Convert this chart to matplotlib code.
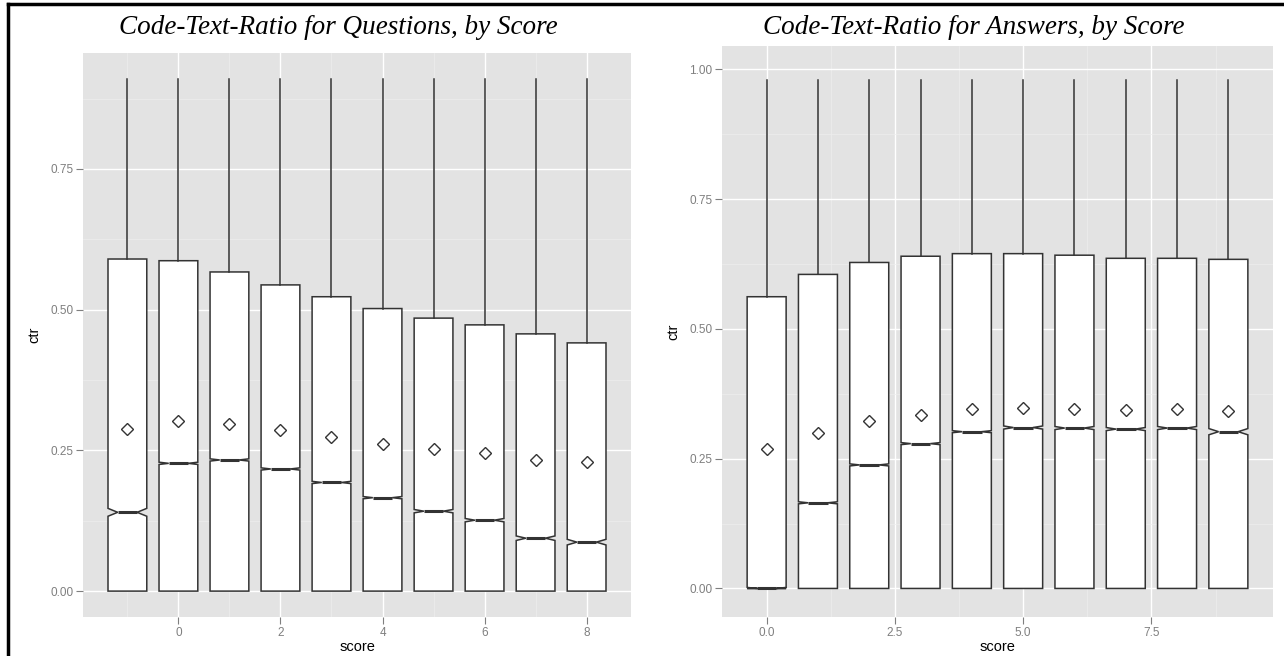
import matplotlib.pyplot as plt
from matplotlib.lines import Line2D
from matplotlib.ticker import MultipleLocator

plt.rcParams['font.family'] = ['Liberation Sans', 'DejaVu Sans']

# Questions panel: score -1..8
q_scores = [-1, 0, 1, 2, 3, 4, 5, 6, 7, 8]
q_q3 = [0.590, 0.587, 0.567, 0.544, 0.523, 0.502, 0.485, 0.473, 0.457, 0.441]
q_med = [0.140, 0.227, 0.233, 0.217, 0.193, 0.166, 0.142, 0.126, 0.094, 0.087]
q_notch = [0.007, 0.002, 0.002, 0.002, 0.002, 0.002, 0.003, 0.003, 0.004, 0.005]
q_mean = [0.288, 0.302, 0.297, 0.286, 0.274, 0.261, 0.252, 0.245, 0.233, 0.229]
q_whishi = 0.91

# Answers panel: score 0..9
a_scores = [0, 1, 2, 3, 4, 5, 6, 7, 8, 9]
a_q3 = [0.562, 0.605, 0.628, 0.640, 0.645, 0.645, 0.642, 0.636, 0.636, 0.634]
a_med = [0.000, 0.165, 0.238, 0.279, 0.302, 0.310, 0.309, 0.307, 0.309, 0.302]
a_notch = [0.002, 0.002, 0.002, 0.002, 0.002, 0.003, 0.003, 0.003, 0.003, 0.006]
a_mean = [0.269, 0.300, 0.322, 0.335, 0.345, 0.347, 0.346, 0.343, 0.345, 0.341]
a_whishi = 0.98

W, H = 1284, 656
fig = plt.figure(figsize=(W / 100, H / 100), dpi=100)

GRAY = '#E3E3E3'
EDGE = '#333333'
TICKC = '#7F7F7F'


def make_stats(med, q3, notch, mean, whishi, lo_clip=False):
    stats = []
    for m, u, n, mu in zip(med, q3, notch, mean):
        cilo = max(m - n, 0.0) if lo_clip else m - n
        stats.append(dict(med=m, q1=0.0, q3=u, whislo=0.0, whishi=whishi,
                          cilo=cilo, cihi=m + n, mean=mu, fliers=[]))
    return stats


def panel(rect, scores, stats, xlim, ylim, xmajor, title, title_x):
    ax = fig.add_axes(rect)
    ax.set_facecolor(GRAY)
    ax.bxp(stats, positions=scores, widths=0.76, shownotches=True, showcaps=False,
           showmeans=True, showfliers=False, patch_artist=True,
           boxprops=dict(facecolor='white', edgecolor=EDGE, linewidth=1.1),
           whiskerprops=dict(color=EDGE, linewidth=1.1),
           medianprops=dict(color=EDGE, linewidth=2.2),
           meanprops=dict(marker='D', markerfacecolor='none', markeredgecolor=EDGE,
                          markersize=6, markeredgewidth=1.0),
           zorder=3)
    ax.set_xlim(*xlim)
    ax.set_ylim(*ylim)
    ax.xaxis.set_major_locator(MultipleLocator(xmajor))
    ax.xaxis.set_minor_locator(MultipleLocator(xmajor / 2))
    ax.yaxis.set_major_locator(MultipleLocator(0.25))
    ax.yaxis.set_minor_locator(MultipleLocator(0.125))
    ax.grid(which='major', color='white', linewidth=1.0, zorder=0)
    ax.grid(which='minor', color='#EEEEEE', linewidth=0.5, zorder=0)
    ax.set_axisbelow(True)
    for s in ax.spines.values():
        s.set_visible(False)
    ax.tick_params(which='major', length=5, color=TICKC, labelcolor=TICKC,
                   labelsize=8.5, width=0.8, pad=2)
    ax.tick_params(which='minor', length=0)
    xt = [v for v in ax.get_xticks() if xlim[0] <= v <= xlim[1]]
    ax.set_xticks(xt)
    if xmajor == 2.5:
        ax.set_xticklabels([f'{v:.1f}' for v in xt])
    else:
        ax.set_xticklabels([f'{v:g}' for v in xt])
    yt = [v for v in ax.get_yticks() if ylim[0] <= v <= ylim[1]]
    ax.set_yticks(yt)
    ax.set_yticklabels([f'{v:.2f}' for v in yt])
    ax.set_xlabel('score', fontsize=10.5, labelpad=1)
    ax.set_ylabel('ctr', fontsize=10.5, labelpad=6)
    fig.text(title_x / W, 1 - 27 / H, title, ha='center', va='center',
             family='Liberation Serif', style='italic', fontsize=19.5)
    return ax


def rect(x0, x1, y0, y1):
    return [x0 / W, 1 - y1 / H, (x1 - x0) / W, (y1 - y0) / H]


panel(rect(83, 631, 53, 617), q_scores,
      make_stats(q_med, q_q3, q_notch, q_mean, q_whishi),
      (-1.87, 8.87), (-0.046, 0.956), 2,
      'Code-Text-Ratio for Questions, by Score', 338)

panel(rect(722, 1273, 46, 617), a_scores,
      make_stats(a_med, a_q3, a_notch, a_mean, a_whishi, lo_clip=True),
      (-0.87, 9.87), (-0.055, 1.045), 2.5,
      'Code-Text-Ratio for Answers, by Score', 974)

# frame lines on the top and left edge
fig.add_artist(Line2D([8 / W, 1], [1 - 4 / H, 1 - 4 / H], color='black', linewidth=2.5))
fig.add_artist(Line2D([8 / W, 8 / W], [0, 1 - 4 / H], color='black', linewidth=2.5))

fig.savefig('out.png', dpi=100)
